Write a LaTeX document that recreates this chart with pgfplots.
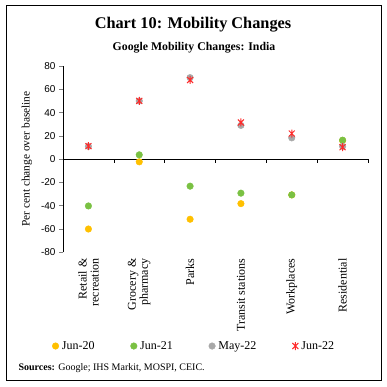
\documentclass[border=0pt]{standalone}
\usepackage{pgfplots}
\pgfplotsset{compat=1.18}
\usepackage{fontspec}
\setmainfont{Liberation Serif}
\newfontfamily\tickfont{Liberation Sans}
\definecolor{cOrange}{HTML}{FFC000}
\definecolor{cGreen}{HTML}{7AC143}
\definecolor{cGray}{HTML}{A8A8A8}
\definecolor{cRed}{HTML}{FF2B2B}
\pgfdeclareplotmark{xstar}{%
  \pgfpathmoveto{\pgfqpoint{-0.75\pgfplotmarksize}{-0.75\pgfplotmarksize}}%
  \pgfpathlineto{\pgfqpoint{0.75\pgfplotmarksize}{0.75\pgfplotmarksize}}%
  \pgfpathmoveto{\pgfqpoint{-0.75\pgfplotmarksize}{0.75\pgfplotmarksize}}%
  \pgfpathlineto{\pgfqpoint{0.75\pgfplotmarksize}{-0.75\pgfplotmarksize}}%
  \pgfpathmoveto{\pgfqpoint{0pt}{-\pgfplotmarksize}}%
  \pgfpathlineto{\pgfqpoint{0pt}{\pgfplotmarksize}}%
  \pgfusepathqstroke}
\begin{document}
\begin{tikzpicture}
\useasboundingbox (0pt,0pt) rectangle (387pt,386pt);
\draw[line width=0.8pt] (6pt,5.3pt) rectangle (381pt,381pt);
\node[font=\fontsize{16.3}{19}\selectfont\bfseries] at (193pt,361pt) {Chart 10: Mobility Changes};
\node[font=\fontsize{11.8}{14}\selectfont\bfseries] at (194pt,338pt) {Google Mobility Changes: India};
\node[font=\fontsize{11.4}{13}\selectfont, rotate=90] at (27pt,227pt) {Per cent change over baseline};
\node[font=\fontsize{10}{12}\selectfont, anchor=west] at (15pt,18.3pt) {\textbf{Sources:} Google; IHS Markit, MOSPI, CEIC.};
\begin{axis}[
  at={(63pt,133.7pt)}, anchor=south west,
  scale only axis, width=305pt, height=186.3pt,
  xmin=-0.5, xmax=5.5, ymin=-80, ymax=80,
  axis y line*=left, axis x line*=bottom,
  x axis line style={draw=none},
  y axis line style={line width=0.6pt},
  xtick={0,1,2,3,4,5},
  xticklabels={{Retail \&\\recreation},{Grocery \&\\pharmacy},Parks,Transit stations,Workplaces,Residential},
  xtick style={draw=none},
  x tick label style={rotate=90, anchor=east, align=right, font=\fontsize{12}{12}\selectfont, inner sep=2pt},
  ytick={-80,-60,...,80},
  y tick label style={font=\fontsize{10}{12}\tickfont},
  /pgf/number format/assume math mode=true,
  tick align=outside, major tick length=4pt,
  ytick style={line width=0.6pt},
  clip=false,
  legend columns=4,
  legend style={draw=none, at={(0.43,-0.503)}, anchor=center, font=\fontsize{12}{13}\selectfont,
    /tikz/every even column/.append style={column sep=34pt},
    /tikz/every odd column/.append style={column sep=1pt}},
  legend image code/.code={\draw[#1] plot coordinates {(0pt,0pt)};},
]
\draw[line width=0.6pt] (axis cs:-0.5,0) -- (axis cs:5.5,0);
\pgfplotsinvokeforeach{0.5,1.5,2.5,3.5,4.5,5.5}{\draw[line width=0.6pt] (axis cs:#1,0) -- ([yshift=-4pt]axis cs:#1,0);}
\addplot[only marks, mark=*, mark size=3.3pt, color=cOrange] coordinates {(0,-60) (1,-2.3) (2,-51.6) (3,-38.2) (4,-30.7) (5,16)};
\addlegendentry{Jun-20}
\addplot[only marks, mark=*, mark size=3.3pt, color=cGreen] coordinates {(0,-40.2) (1,3.7) (2,-23.2) (3,-29.2) (4,-30.7) (5,16.3)};
\addlegendentry{Jun-21}
\addplot[only marks, mark=*, mark size=3.3pt, color=cGray] coordinates {(0,11) (1,50) (2,70) (3,29) (4,18.3) (5,11)};
\addlegendentry{May-22}
\addplot[only marks, mark=xstar, mark size=4pt, line width=1pt, color=cRed] coordinates {(0,11.2) (1,50) (2,68) (3,31.5) (4,22) (5,10.3)};
\addlegendentry{Jun-22}
\end{axis}
\end{tikzpicture}
\end{document}
